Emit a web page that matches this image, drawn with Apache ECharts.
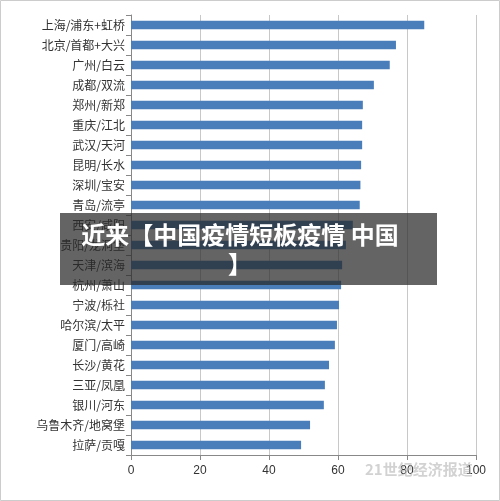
<!DOCTYPE html>
<html><head><meta charset="utf-8">
<script src="https://cdn.jsdelivr.net/npm/echarts@6/dist/echarts.min.js"></script>
<style>html,body{margin:0;padding:0;background:#fff}#c{width:500px;height:501px}</style>
</head><body><div id="c"></div>
<script>
const categories = ["上海/浦东+虹桥","北京/首都+大兴","广州/白云","成都/双流","郑州/新郑","重庆/江北","武汉/天河","昆明/长水","深圳/宝安","青岛/流亭","西安/咸阳","贵阳/龙洞堡","天津/滨海","杭州/萧山","宁波/栎社","哈尔滨/太平","厦门/高崎","长沙/黄花","三亚/凤凰","银川/河东","乌鲁木齐/地窝堡","拉萨/贡嘎"];
const values = [85,76.8,75,70.4,67.2,67,67,66.7,66.5,66.3,64.3,62.3,61.2,60.9,60.3,59.7,59.1,57.4,56.2,55.9,51.9,49.3];
const xTicks = [0,20,40,60,80,100];
const chart = echarts.init(document.getElementById('c'));
chart.setOption({
  animation:false,
  grid:{left:131,right:24,top:15,bottom:46},
  xAxis:{type:'value',min:xTicks[0],max:xTicks[xTicks.length-1],interval:20,
    axisLine:{show:true,lineStyle:{color:'#888'}},axisTick:{show:true,lineStyle:{color:'#888'}},
    axisLabel:{color:'#333',fontSize:12,margin:10},
    splitLine:{lineStyle:{color:'#c8c8c8'}}},
  yAxis:{type:'category',data:categories,inverse:true,
    axisLine:{lineStyle:{color:'#888'}},axisTick:{show:true,lineStyle:{color:'#888'}},
    axisLabel:{color:'#333',fontSize:12,margin:6,fontFamily:'Noto Sans CJK SC'}},
  series:[{type:'bar',data:values,barWidth:'42%',itemStyle:{color:'#4a7ebb'}}],
  graphic:[
    {type:'rect',shape:{x:60,y:213,width:377,height:72},style:{fill:'rgba(40,40,40,0.72)'},z:100},
    {type:'text',x:240,y:220,style:{text:'近来【中国疫情短板疫情 中国\n】',align:'center',fill:'#fff',font:'bold 24px "Noto Sans CJK SC"',lineHeight:29},z:101},
    {type:'text',x:365,y:462,style:{text:'21世纪经济报道',fill:'rgba(180,180,180,0.6)',font:'bold 15px "Noto Sans CJK SC"'},z:101},
    {type:'rect',shape:{x:0.5,y:0.5,width:499,height:500},style:{fill:'none',stroke:'#ccc'},z:99}
  ]
});
</script></body></html>
